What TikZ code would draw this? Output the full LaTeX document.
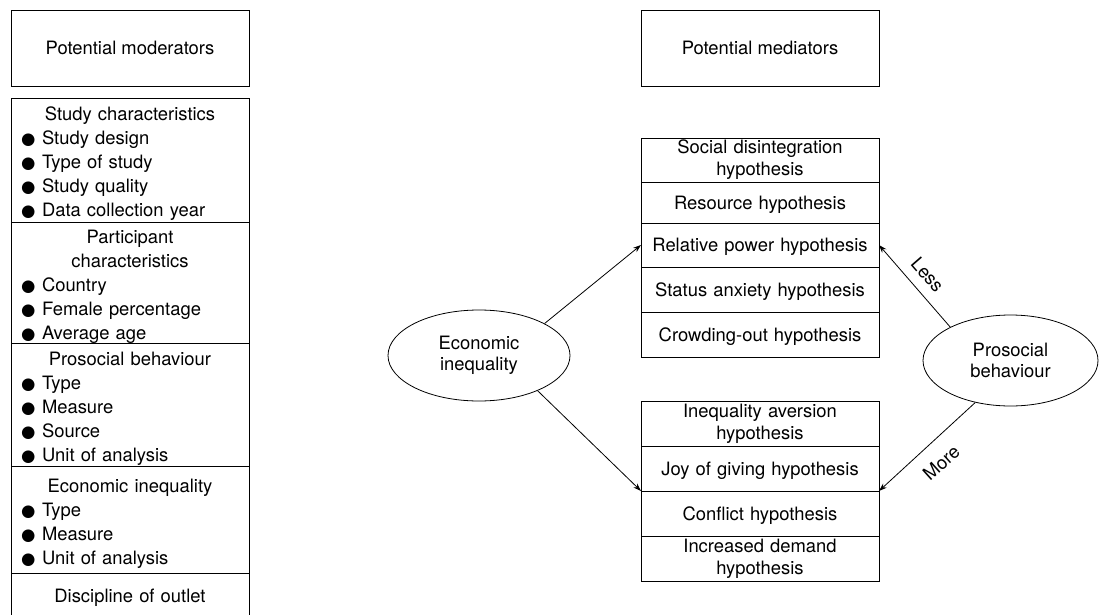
\documentclass[tikz,border=0pt]{standalone}
\usepackage{fontspec}
\setmainfont{TeX Gyre Heros}
\newfontfamily\dotfont{DejaVu Sans}
\usetikzlibrary{positioning, shapes.geometric, arrows.meta}

\newcommand{\modhead}[1]{\makebox[218pt][c]{#1}}
\newcommand{\moditem}[1]{\makebox[21pt][l]{\dotfont\fontsize{16.5}{24}\selectfont ●}#1}

\tikzset{
	modbox/.style={draw, line width=0.8pt, outer sep=0pt, text width=218pt, inner xsep=10pt, inner ysep=0pt, align=left, font=\fontsize{18.4}{24}\selectfont, execute at begin node={\rule{0pt}{21pt}}},
	medbox/.style={draw, line width=0.8pt, outer sep=0pt, minimum width=238pt, text width=230pt, inner xsep=4pt, inner ysep=0pt, align=center, font=\fontsize{18.4}{22}\selectfont},
	oneline/.style={text depth=0pt},
	headbox/.style={draw, line width=0.8pt, outer sep=0pt, minimum width=238pt, minimum height=76pt, anchor=north west},
	oval/.style={ellipse, draw, line width=0.8pt, inner sep=0pt, align=center, font=\fontsize{18.4}{21}\selectfont, execute at begin node={\rule{0pt}{18pt}}},
	link/.style={-{Stealth[length=8pt,width=5.5pt]}, line width=0.8pt},
}

\begin{document}
\begin{tikzpicture}[x=1pt,y=1pt,yscale=-1,font=\fontsize{18.4}{22}\selectfont]
		\clip (0,0) rectangle (1099,615);

		% Potential moderators
		\node[headbox] (modtitle) at (11,10) {Potential moderators};
		\node[modbox, minimum height=124pt, anchor=north west] (study) at (11,98) {\modhead{Study characteristics}\\ \moditem{Study design}\\ \moditem{Type of study}\\ \moditem{Study quality}\\ \moditem{Data collection year}};
		\node[modbox, minimum height=121pt, below=0pt of study] (partic) {\modhead{Participant}\\ \modhead{characteristics}\\ \moditem{Country}\\ \moditem{Female percentage}\\ \moditem{Average age}};
		\node[modbox, minimum height=123pt, below=0pt of partic] (prosbeh) {\modhead{Prosocial behaviour}\\ \moditem{Type}\\ \moditem{Measure}\\ \moditem{Source}\\ \moditem{Unit of analysis}};
		\node[modbox, minimum height=107pt, below=0pt of prosbeh] (ecoineq) {\modhead{Economic inequality}\\ \moditem{Type}\\ \moditem{Measure}\\ \moditem{Unit of analysis}};
		\node[modbox, minimum height=42pt, below=0pt of ecoineq] (outlet) {\modhead{Discipline of outlet}};

		% Potential mediators
		\node[headbox] (medtitle) at (641,10) {Potential mediators};
		\node[medbox, minimum height=44pt, anchor=north west] (socdis) at (641,138) {Social disintegration\\hypothesis};
		\node[medbox, oneline, minimum height=41pt, below=0pt of socdis] (resource) {Resource hypothesis};
		\node[medbox, oneline, minimum height=44pt, below=0pt of resource] (relpow) {Relative power hypothesis};
		\node[medbox, oneline, minimum height=45pt, below=0pt of relpow] (status) {Status anxiety hypothesis};
		\node[medbox, oneline, minimum height=45pt, below=0pt of status] (crowd) {Crowding-out hypothesis};

		\node[medbox, minimum height=45pt, anchor=north west] (aversion) at (641,401) {Inequality aversion\\hypothesis};
		\node[medbox, oneline, minimum height=45pt, below=0pt of aversion] (joy) {Joy of giving hypothesis};
		\node[medbox, oneline, minimum height=45pt, below=0pt of joy] (conflict) {Conflict hypothesis};
		\node[medbox, minimum height=45pt, below=0pt of conflict] (demand) {Increased demand\\hypothesis};

		% Ellipses
		\node[oval, minimum width=182pt, minimum height=91pt] (ineq) at (479,355.5) {Economic\\inequality};
		\node[oval, minimum width=175pt, minimum height=91pt] (prosoc) at (1010.5,360.5) {Prosocial\\behaviour};

		% Arrows
		\draw[link] (ineq.26) -- (relpow.west);
		\draw[link] (ineq.-31) -- (joy.south west);
		\draw[link] (prosoc.151) -- node[pos=0.5, rotate=-49, anchor=south, inner ysep=10pt] (less) {Less} (relpow.east);
		\draw[link] (prosoc.230) -- node[pos=0.5, rotate=42, anchor=north, inner ysep=14pt] (more) {More} (joy.south east);

	\end{tikzpicture}
\end{document}
